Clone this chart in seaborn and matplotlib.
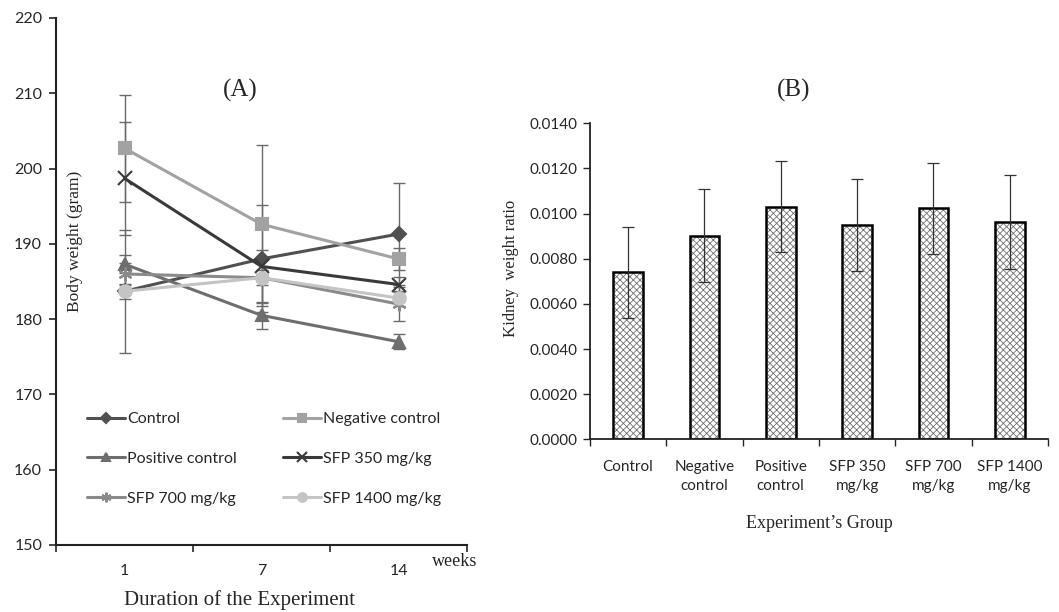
import numpy as np
import pandas as pd
import matplotlib
matplotlib.use("Agg")
import matplotlib.pyplot as plt
import seaborn as sns

# ---- panel A data: body weight over weeks ----
weeks = ["1", "7", "14"]
series_names = ["Control", "Negative control", "Positive control",
                "SFP 350 mg/kg", "SFP 700 mg/kg", "SFP 1400 mg/kg"]
control = [183.7, 188.0, 191.3]
negative = [202.7, 192.6, 188.0]
positive = [187.3, 180.5, 177.0]
sfp350 = [198.7, 187.0, 184.6]
sfp700 = [186.0, 185.5, 182.0]
sfp1400 = [183.7, 185.5, 182.8]
control_sd = [8.2, 7.1, 6.8]
negative_sd = [7.1, 10.5, 1.5]
positive_sd = [1.2, 1.8, 1.0]
sfp350_sd = [7.5, 1.0, 1.0]
sfp700_sd = [1.5, 3.7, 2.3]
sfp1400_sd = [1.0, 1.0, 1.0]

# ---- panel B data: kidney weight ratio ----
groups = ["Control", "Negative\ncontrol", "Positive\ncontrol",
          "SFP 350\nmg/kg", "SFP 700\nmg/kg", "SFP 1400\nmg/kg"]
kidney_ratio = [0.00740, 0.00902, 0.01031, 0.00950, 0.01023, 0.00963]
kidney_sd = [0.00202, 0.00206, 0.00202, 0.00205, 0.00200, 0.00207]

sns.set_style("ticks")
plt.rcParams['font.family'] = ['Lato', 'DejaVu Sans']
plt.rcParams['hatch.linewidth'] = 0.6
serif = ['Liberation Serif', 'DejaVu Serif']

fig = plt.figure(figsize=(10.59, 6.12), dpi=100)
axA = fig.add_axes([0.0529, 0.1095, 0.3881, 0.8611])
axB = fig.add_axes([0.557, 0.2822, 0.4326, 0.5163])

# ---- panel A ----
vals = [control, negative, positive, sfp350, sfp700, sfp1400]
sds = [control_sd, negative_sd, positive_sd, sfp350_sd, sfp700_sd, sfp1400_sd]
colors = ["#505050", "#a2a2a2", "#6e6e6e", "#3a3a3a", "#8a8a8a", "#c4c4c4"]
markers = ["D", "s", "^", "x", (6, 2, 0), "o"]
msizes = [7, 9, 9, 10, 10, 9]
pos = np.arange(len(weeks))

for name, v, sd in zip(series_names, vals, sds):
    axA.errorbar(pos, v, yerr=sd, fmt="none", ecolor="#6a6a6a",
                 elinewidth=1.0, capsize=4, capthick=1.0, zorder=1)

for name, v, c, m, ms in zip(series_names, vals, colors, markers, msizes):
    df = pd.DataFrame({"pos": pos, "weight": v})
    sns.lineplot(data=df, x="pos", y="weight", ax=axA, color=c, marker=m,
                 markersize=ms, markeredgecolor=c, markeredgewidth=1.5,
                 linewidth=2.2, label=name, zorder=3)

axA.set_xlim(-0.5, 2.5)
axA.set_ylim(150, 220)
axA.set_yticks(np.arange(150, 221, 10))
axA.set_xticks(pos)
axA.set_xticklabels(weeks)
axA.set_xticks([-0.5, 0.5, 1.5, 2.5], minor=True)
axA.tick_params(axis="x", which="major", length=0, pad=14, labelsize=11.5)
axA.tick_params(axis="x", which="minor", length=5, width=1.2, direction="out")
axA.tick_params(axis="y", length=5, width=1.2, direction="out", pad=5, labelsize=11.5)
axA.set_xlabel("")
axA.set_ylabel("")
for s in ["top", "right"]:
    axA.spines[s].set_visible(False)
for s in ["left", "bottom"]:
    axA.spines[s].set_linewidth(1.5)
    axA.spines[s].set_color("#222222")

# legend filled row by row like the original
handles, labels = axA.get_legend_handles_labels()
order = [0, 2, 4, 1, 3, 5]
leg = axA.legend([handles[i] for i in order], [labels[i] for i in order],
                 ncol=2, loc="upper left", bbox_to_anchor=(87 / 1059, 1 - 412 / 612),
                 bbox_transform=fig.transFigure, borderpad=0, borderaxespad=0,
                 frameon=False, fontsize=11.5, handlelength=2.4, markerscale=0.7,
                 handletextpad=0.1, labelspacing=1.6, columnspacing=2.9)

fig.text(0.2266, 0.853, "(A)", fontsize=18, family=serif, ha="center", va="center")
fig.text(0.071, 0.605, "Body weight (gram)", fontsize=12.5, family=serif,
         rotation=90, ha="center", va="center")
fig.text(0.408, 0.082, "weeks", fontsize=13, family=serif, ha="left", va="center")
fig.text(0.2266, 0.019, "Duration of the Experiment", fontsize=15, family=serif,
         ha="center", va="center")

# ---- panel B ----
dfB = pd.DataFrame({"group": groups, "ratio": kidney_ratio})
sns.barplot(data=dfB, x="group", y="ratio", ax=axB, color="white",
            edgecolor="black", linewidth=1.8, width=0.39, errorbar=None)
for p in axB.patches:
    p.set_hatch("xxxxx")
    p._hatch_color = (0.45, 0.45, 0.45, 1.0)
axB.errorbar(np.arange(len(groups)), kidney_ratio, yerr=kidney_sd, fmt="none",
             ecolor="#333333", elinewidth=0.9, capsize=4, capthick=0.9, zorder=5)

axB.set_xlim(-0.5, 5.5)
axB.set_ylim(0, 0.014)
axB.set_yticks(np.arange(0, 0.01401, 0.002))
axB.set_yticklabels([f"{t:.4f}" for t in np.arange(0, 0.01401, 0.002)])
axB.set_xticks([-0.5, 0.5, 1.5, 2.5, 3.5, 4.5, 5.5], minor=True)
axB.tick_params(axis="x", which="major", length=0, pad=15, labelsize=11)
axB.tick_params(axis="x", which="minor", length=5, width=1.0, direction="out")
axB.tick_params(axis="y", length=5, width=1.0, direction="out", pad=4, labelsize=11)
for t in axB.get_xticklabels():
    t.set_linespacing(1.45)
for s in ["top", "right"]:
    axB.spines[s].set_visible(False)
for s in ["left", "bottom"]:
    axB.spines[s].set_linewidth(1.3)
    axB.spines[s].set_color("#222222")
axB.set_xlabel("Experiment\u2019s Group", fontsize=13, family=serif, labelpad=16)
axB.set_ylabel("Kidney  weight ratio", fontsize=12, family=serif)
axB.yaxis.set_label_coords(-0.155, 0.54)

fig.text(0.749, 0.853, "(B)", fontsize=18, family=serif, ha="center", va="center")

fig.savefig("out.png", dpi=100)
